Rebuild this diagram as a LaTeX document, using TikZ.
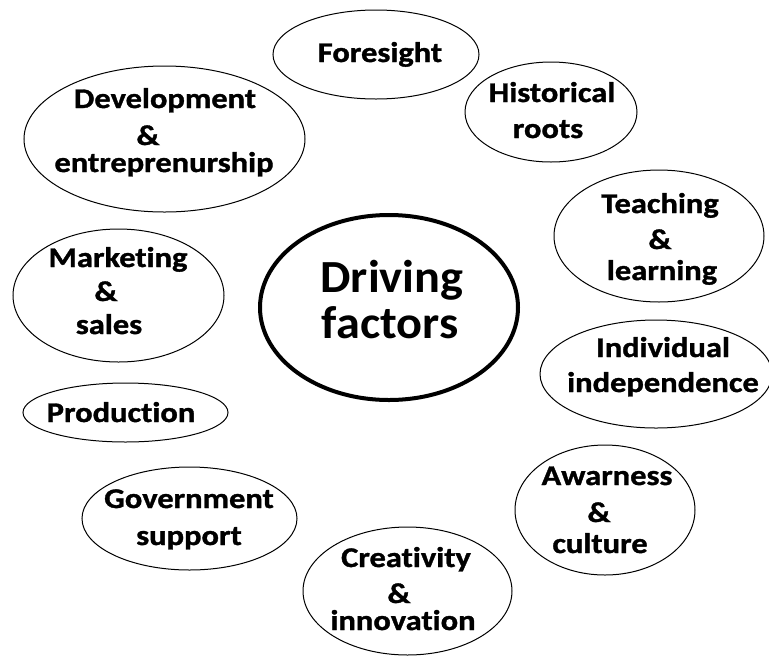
\documentclass[tikz,border=0pt]{standalone}
\usepackage{fontspec}
\usetikzlibrary{shapes.geometric}
\newfontfamily\labfont{Carlito}[FakeStretch=1.14, FakeBold=1.2, Ligatures=NoCommon, Contextuals=NoAlternate]
\newfontfamily\bigfont{Carlito}[FakeStretch=1.05, Ligatures=NoCommon, Contextuals=NoAlternate]
\tikzset{
  oval/.style={draw=black, ellipse, line width=1pt, inner sep=0pt},
  hub/.style={oval, line width=4pt},
  lab/.style={anchor=base, inner sep=0pt, font=\labfont\bfseries\fontsize{28.5}{30}\selectfont},
  biglab/.style={anchor=base, inner sep=0pt, font=\bigfont\bfseries\fontsize{46}{48}\selectfont}
}
\begin{document}
\begin{tikzpicture}[x=1pt,y=-1pt]
\useasboundingbox (0,0) rectangle (769,657);
\fill[white] (0,0) rectangle (769,657);
% ellipses
\node[oval, minimum width=206pt, minimum height=89pt] (fore) at (376,54.5) {};
\node[oval, minimum width=172pt, minimum height=100pt] (hist) at (551,112) {};
\node[oval, minimum width=281pt, minimum height=146pt] (dev) at (164.5,139) {};
\node[oval, minimum width=210pt, minimum height=132pt] (teach) at (659,236) {};
\node[hub, minimum width=258pt, minimum height=185pt] (drive) at (389,307.5) {};
\node[oval, minimum width=211pt, minimum height=133pt] (mark) at (118.5,295.5) {};
\node[oval, minimum width=232pt, minimum height=108pt] (indiv) at (656,374) {};
\node[oval, minimum width=205pt, minimum height=59pt] (prod) at (125.5,412.5) {};
\node[oval, minimum width=180pt, minimum height=130pt] (awar) at (605,510) {};
\node[oval, minimum width=215pt, minimum height=103pt] (gov) at (189.5,518.5) {};
\node[oval, minimum width=209pt, minimum height=128pt] (creat) at (407.5,591) {};
% texts
\node[lab] (foreA) at (380,62) {Foresight};
\node[lab] (histA) at (552,102) {Historical};
\node[lab] (histB) at (548,138) {roots};
\node[lab] (devA) at (165,108) {Development};
\node[lab] (devB) at (148,145) {\&};
\node[lab] (devC) at (164,172) {entreprenurship};
\node[lab] (teachA) at (660,213) {Teaching};
\node[lab] (teachB) at (660,249) {\&};
\node[lab] (teachC) at (662,280) {learning};
\node[biglab] (driveA) at (392,292) {Driving};
\node[biglab] (driveB) at (390,338) {factors};
\node[lab] (markA) at (118,267) {Marketing};
\node[lab] (markB) at (106,301) {\&};
\node[lab] (markC) at (109,334) {sales};
\node[lab] (indivA) at (663,357) {Individual};
\node[lab] (indivB) at (663,392) {independence};
\node[lab] (prodA) at (121,422) {Production};
\node[lab] (awarA) at (607,485) {Awarness};
\node[lab] (awarB) at (599,522) {\&};
\node[lab] (awarC) at (600,553) {culture};
\node[lab] (govA) at (189,508) {Government};
\node[lab] (govB) at (189,545) {support};
\node[lab] (creatA) at (406,567) {Creativity};
\node[lab] (creatB) at (399,603) {\&};
\node[lab] (creatC) at (403,630) {innovation};
\end{tikzpicture}
\end{document}
